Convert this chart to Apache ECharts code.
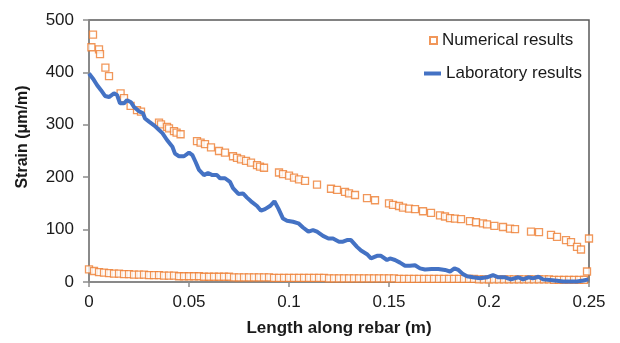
<!DOCTYPE html>
<html><head><meta charset="utf-8">
<script src="https://cdn.jsdelivr.net/npm/echarts@6/dist/echarts.min.js"></script>
<style>html,body{margin:0;padding:0;background:#fff}#c{width:620px;height:343px}</style>
</head><body><div id="c"></div>
<script>
const xTicks = ['0','0.05','0.1','0.15','0.2','0.25'];
const yTicks = ['0','100','200','300','400','500'];
const seriesNames = ['Numerical results','Laboratory results'];

const numUpperX = [0.0012,0.002,0.005,0.0055,0.0082,0.010,0.0158,0.0175,0.0208,0.024,0.026,0.035,0.036,0.039,0.040,0.0425,0.0438,0.0458,0.054,0.0558,0.058,0.061,0.065,0.068,0.072,0.074,0.076,0.0785,0.081,0.084,0.0855,0.0875,0.095,0.097,0.100,0.1025,0.105,0.108,0.114,0.121,0.124,0.128,0.130,0.133,0.139,0.143,0.150,0.152,0.155,0.157,0.160,0.163,0.167,0.171,0.1755,0.178,0.1805,0.183,0.186,0.1905,0.1935,0.197,0.199,0.2027,0.207,0.2105,0.213,0.221,0.225,0.231,0.234,0.2385,0.241,0.244,0.246,0.250,0.249];
const numUpperY = [448,472,444,435,409,393,360,351,336,328,325,304,301,296,293,288,285,282,269,266,263,257,250,247,240,237,234,231,228,223,220,218,209,206,203,199,196,193,186,178,176,172,169,166,160,156,150,147,145,142,140,139,135,132,127,125,122,121,120,116,114,112,110,107,105,102,101,96,95,90,86,80,76,67,62,83,20];

const numLowerX = [0,0.0025,0.005,0.0075,0.01,0.0125,0.015,0.0175,0.02,0.0225,
 0.025,0.0275,0.03,0.0325,0.035,0.0375,0.04,0.0425,0.045,0.0475,
 0.05,0.0525,0.055,0.0575,0.06,0.0625,0.065,0.0675,0.07,0.0725,
 0.075,0.0775,0.08,0.0825,0.085,0.0875,0.09,0.0925,0.095,0.0975,
 0.1,0.1025,0.105,0.1075,0.11,0.1125,0.115,0.1175,0.12,0.1225,
 0.125,0.1275,0.13,0.1325,0.135,0.1375,0.14,0.1425,0.145,0.1475,
 0.15,0.1525,0.155,0.1575,0.16,0.1625,0.165,0.1675,0.17,0.1725,
 0.175,0.1775,0.18,0.1825,0.185,0.1875,0.19,0.1925,0.195,0.1975,
 0.2,0.2025,0.205,0.2075,0.21,0.2125,0.215,0.2175,0.22,0.2225,
 0.225,0.2275,0.23,0.2325,0.235,0.2375,0.24,0.2425,0.245,0.2475];
const numLowerY = [24,21,19,18,17,16,16,15,15,14,
 14,14,13,13,13,12,12,12,11,11,
 11,11,11,10,10,10,10,10,10,9,
 9,9,9,9,9,9,9,8,8,8,
 8,8,8,8,8,8,8,8,7,7,
 7,7,7,7,7,7,7,7,7,7,
 7,7,6,6,6,6,6,6,6,6,
 6,6,6,6,6,6,6,6,5,5,
 5,5,5,5,5,5,5,5,5,5,
 5,5,5,4,4,4,4,4,4,4];

const labX = [0,0.002,0.004,0.006,0.008,0.010,0.0125,0.014,0.0155,0.0175,0.019,0.021,0.0225,0.025,0.027,0.028,0.030,0.0325,0.034,0.0367,0.039,0.0417,0.043,0.045,0.0475,0.050,0.0517,0.0533,0.055,0.0575,0.0595,0.0617,0.064,0.0655,0.068,0.0705,0.072,0.0747,0.077,0.079,0.081,0.084,0.086,0.088,0.0905,0.0927,0.0947,0.097,0.099,0.102,0.1047,0.107,0.1097,0.112,0.114,0.117,0.1197,0.122,0.125,0.127,0.129,0.131,0.134,0.136,0.139,0.141,0.144,0.146,0.149,0.1505,0.153,0.1555,0.158,0.1605,0.163,0.1655,0.168,0.1713,0.1747,0.178,0.1805,0.1827,0.1847,0.187,0.189,0.192,0.1955,0.199,0.202,0.2047,0.208,0.211,0.2147,0.217,0.2197,0.222,0.2247,0.227,0.2305,0.234,0.237,0.2405,0.244,0.2472,0.2497];
const labY = [398,388,376,366,355,353,360,357,341,341,347,343,334,326,322,312,306,299,294,284,271,258,245,240,240,247,242,229,214,204,208,204,204,198,198,191,179,168,169,161,154,145,136,139,145,154,140,121,117,115,112,104,96,99,96,88,83,83,77,77,80,80,67,60,53,45,50,50,42,45,42,37,31,31,32,26,24,25,25,23,20,26,23,15,11,9,7,9,13,9,9,5,9,5,9,7,10,5,4,2.5,1,1,1,3,5];

const numData = numUpperX.map((x,i)=>[x,numUpperY[i]]).concat(numLowerX.map((x,i)=>[x,numLowerY[i]]));
const labData = labX.map((x,i)=>[x,labY[i]]);

const FONT = '"Liberation Sans", Arial, sans-serif';
const FS = 17;
const chart = echarts.init(document.getElementById('c'));
chart.setOption({
  animation:false,
  backgroundColor:'#fff',
  grid:{left:89,right:31,top:20,bottom:61,show:true,borderColor:'#595959',borderWidth:1.5,backgroundColor:'transparent'},
  legend:[{
    data:[seriesNames[0]], orient:'vertical', left:424, top:27,
    itemWidth:7, itemHeight:7, itemGap:5,
    textStyle:{fontFamily:FONT,fontSize:FS,color:'#1a1a1a'}
  },{
    data:[{name:seriesNames[1],icon:'rect'}], orient:'vertical', left:419, top:60,
    itemWidth:17, itemHeight:4,
    textStyle:{fontFamily:FONT,fontSize:FS,color:'#1a1a1a'}
  }],
  xAxis:{
    type:'value', min:0, max:0.25, interval:0.05,
    name:'Length along rebar (m)', nameLocation:'middle', nameGap:38,
    nameTextStyle:{fontFamily:FONT,fontSize:FS,fontWeight:'bold',color:'#1a1a1a'},
    axisLine:{show:true,lineStyle:{color:'#8c8c8c',width:1.5}},
    axisTick:{show:true,inside:false,length:5,lineStyle:{color:'#8c8c8c',width:1.5}},
    splitLine:{show:false},
    axisLabel:{margin:12,fontFamily:FONT,fontSize:FS,color:'#1a1a1a',
      formatter:(v)=>{const i=Math.round(v/0.05);return xTicks[i]!==undefined?xTicks[i]:'';}}
  },
  yAxis:{
    type:'value', min:0, max:500, interval:100,
    axisLine:{show:true,lineStyle:{color:'#8c8c8c',width:1.5}},
    axisTick:{show:true,inside:false,length:6,lineStyle:{color:'#8c8c8c',width:1.5}},
    splitLine:{show:false},
    axisLabel:{margin:15,fontFamily:FONT,fontSize:FS,color:'#1a1a1a',
      formatter:(v)=>{const i=Math.round(v/100);return yTicks[i]!==undefined?yTicks[i]:'';}}
  },
  graphic:[{
    type:'text', x:23, y:137, rotation:Math.PI/2,
    style:{text:'Strain (μm/m)', x:0, y:0, align:'center', verticalAlign:'middle',
      font:'bold 16px '+FONT, fill:'#1a1a1a'}
  }],
  series:[{
    name:seriesNames[0], type:'scatter', data:numData,
    symbol:'rect', symbolSize:7,
    itemStyle:{color:'#ffffff',borderColor:'#ED7D31',borderWidth:1.3},
    z:2
  },{
    name:seriesNames[1], type:'line', data:labData,
    showSymbol:false, symbol:'none',
    lineStyle:{color:'#4472C4',width:4},
    itemStyle:{color:'#4472C4'},
    z:3
  }]
});
</script></body></html>
